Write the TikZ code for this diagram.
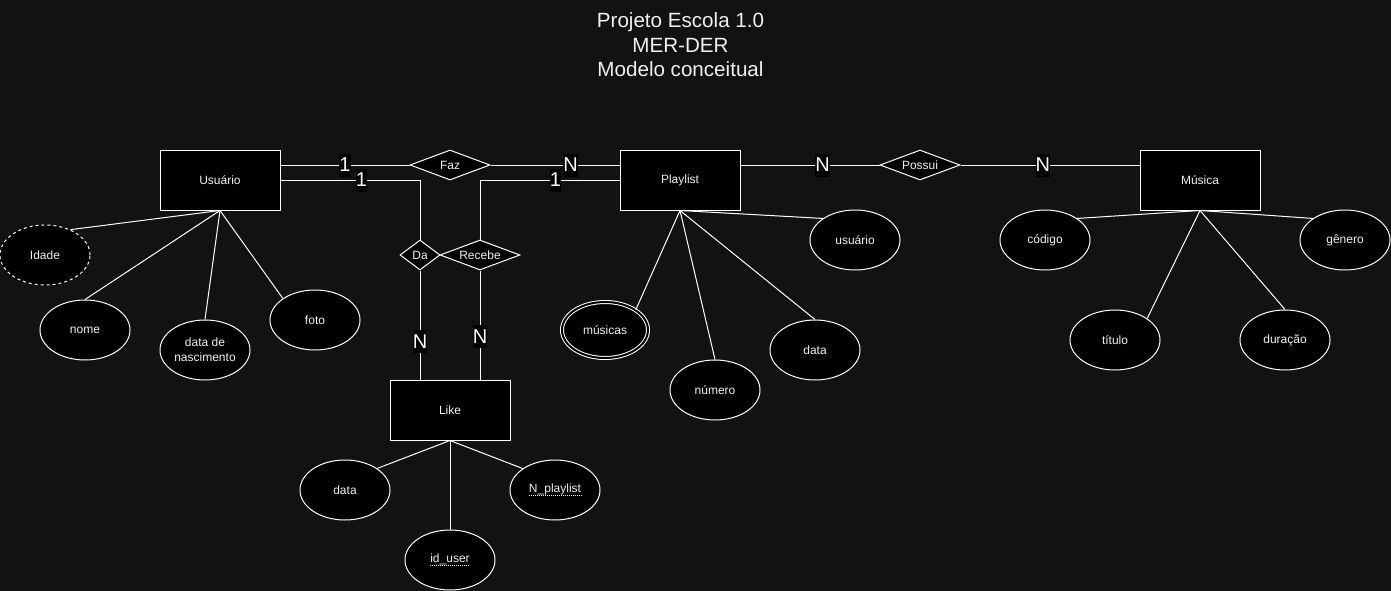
\documentclass[tikz,border=0pt]{standalone}
\usepackage{fontspec}
\setmainfont{Liberation Sans}
\usetikzlibrary{shapes.geometric}
\definecolor{bg}{RGB}{18,18,18}
\definecolor{ink}{RGB}{240,240,240}
\newcommand{\pkey}[1]{\tikz[baseline=(k.base)]{\node[shape=rectangle, draw=none, fill=none, inner sep=0pt, minimum width=0pt, minimum height=0pt, text=ink] (k) {#1};
  \draw[ink, line width=0.8pt, dash pattern=on 1pt off 1pt] ([yshift=-2.5pt]k.base west) -- ([yshift=-2.5pt]k.base east);}}

\begin{document}
\begin{tikzpicture}[
    x=1pt, y=-1pt, line width=1pt,
    entity/.style={rectangle, draw=white, fill=black, text=ink, minimum width=120pt, minimum height=60pt, inner sep=0pt, font=\fontsize{12}{14}\selectfont},
    attrib/.style={ellipse, draw=white, fill=black, text=ink, minimum width=90pt, minimum height=60pt, inner sep=0pt, align=center, font=\fontsize{12}{15}\selectfont},
    derived/.style={attrib, dash pattern=on 3pt off 3pt},
    multi/.style={attrib, minimum width=86pt, minimum height=56pt, double=black, double distance=2pt},
    rel/.style={diamond, draw=white, fill=black, text=ink, minimum width=80pt, minimum height=30pt, aspect=2.67, inner sep=0pt, font=\fontsize{12}{14}\selectfont},
    edge/.style={white},
    card/.style={fill=black, text=white, inner sep=0pt, minimum height=23pt, font=\fontsize{20}{23}\selectfont}
]
\useasboundingbox (0,0) rectangle (1391,591);
\fill[bg] (0,0) rectangle (1391,591);

% ---- title ----
\node[text=ink, align=center, inner sep=0pt, font=\fontsize{20.6}{24.5}\selectfont] (title) at (680.5,45) {Projeto Escola 1.0\\MER-DER\\Modelo conceitual};

% ---- entities ----
\node[entity] (usuario) at (220,180) {Usuário};
\node[entity] (playlist) at (680,180) {Playlist};
\node[entity] (musica) at (1200,180) {Música};
\node[entity] (like) at (450,410) {Like};

% ---- relationships ----
\node[rel] (faz) at (450,165) {Faz};
\node[rel, minimum width=40pt, aspect=1.33] (da) at (420,255) {Da};
\node[rel] (recebe) at (480,255) {Recebe};
\node[rel] (possui) at (920,165) {Possui};

% ---- attributes ----
\node[derived] (idade) at (45,255) {Idade};
\node[attrib] (nome) at (85,330) {nome};
\node[attrib] (nasc) at (205,350) {data de\\nascimento};
\node[attrib] (foto) at (315,320) {foto};

\node[multi] (musicas) at (605,330) {músicas};
\node[attrib] (numero) at (715,390) {número};
\node[attrib] (pdata) at (815,350) {data};
\node[attrib] (puser) at (855,240) {usuário};

\node[attrib] (codigo) at (1045,240) {código};
\node[attrib] (titulo) at (1115,340) {título};
\node[attrib] (duracao) at (1285,340) {duração};
\node[attrib] (genero) at (1345,240) {gênero};

\node[attrib] (ldata) at (345,490) {data};
\node[attrib] (idu) at (450,560) {\pkey{id\_user}};
\node[attrib] (nplay) at (555,490) {\pkey{N\_playlist}};

% ---- relationship lines ----
\draw[edge] (faz.west -| usuario.east) -- node[card] {1} (faz.west);
\draw[edge] (faz.east) -- node[card, pos=0.62] {N} (faz.east -| playlist.west);
\draw[edge] (usuario.east) -- node[card, pos=0.58] {1} (usuario.east -| da.north) -- (da.north);
\draw[edge] (da.south) -- node[card, pos=0.65] {N} (da.south |- like.north);
\draw[edge] (playlist.west) -- node[card, pos=0.46] {1} (playlist.west -| recebe.north) -- (recebe.north);
\draw[edge] (recebe.south) -- node[card, pos=0.61] {N} (recebe.south |- like.north);
\draw[edge] (possui.west -| playlist.east) -- node[card, pos=0.59] {N} (possui.west);
\draw[edge] (possui.east) -- node[card, pos=0.46] {N} (possui.east -| musica.west);

% ---- attribute lines ----
\draw[edge] (usuario.south) -- (idade.45);
\draw[edge] (usuario.south) -- (nome.north);
\draw[edge] (usuario.south) -- (nasc.north);
\draw[edge] (usuario.south) -- (foto.north west);

\draw[edge] (playlist.south) -- (musicas.north east);
\draw[edge] (playlist.south) -- (numero.north);
\draw[edge] (playlist.south) -- (pdata.north);
\draw[edge] (playlist.south) -- (puser.north west);

\draw[edge] (musica.south) -- (codigo.north east);
\draw[edge] (musica.south) -- (titulo.north east);
\draw[edge] (musica.south) -- (duracao.north);
\draw[edge] (musica.south) -- (genero.north west);

\draw[edge] (like.south) -- (ldata.north east);
\draw[edge] (like.south) -- (idu.north);
\draw[edge] (like.south) -- (nplay.north west);

\end{tikzpicture}
\end{document}
